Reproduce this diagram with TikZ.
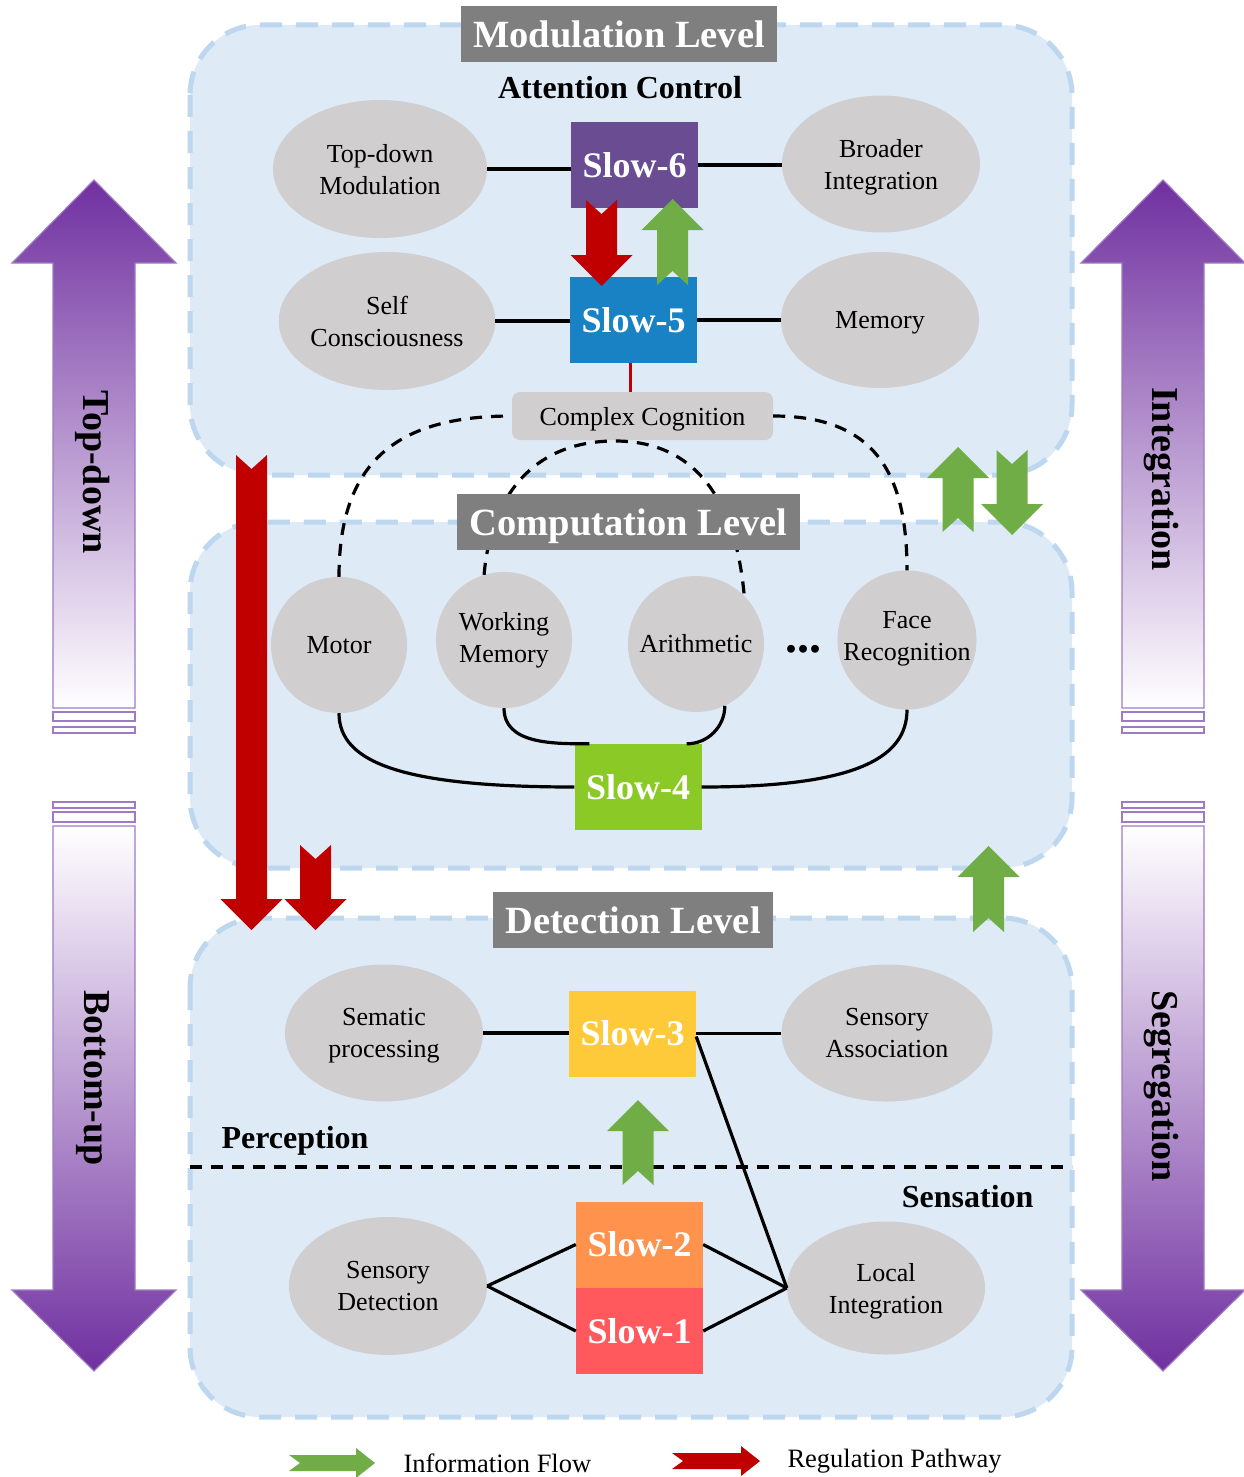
\documentclass[tikz,border=0pt]{standalone}
\usepackage{fontspec}
\setmainfont{Liberation Serif}
\usetikzlibrary{shapes.geometric}
\definecolor{panelfill}{HTML}{DEEBF7}
\definecolor{panelline}{HTML}{BDD7EE}
\definecolor{nodegray}{HTML}{D0CECE}
\definecolor{hdrgray}{HTML}{7F7F7F}
\definecolor{regred}{HTML}{C00000}
\definecolor{infogreen}{HTML}{70AD47}
\definecolor{arrpurple}{HTML}{7030A0}
\definecolor{arrline}{HTML}{9E7BC4}
\definecolor{cSsix}{HTML}{6A4C93}
\definecolor{cSfive}{HTML}{1982C4}
\definecolor{cSfour}{HTML}{8AC926}
\definecolor{cSthree}{HTML}{FFCA3A}
\definecolor{cStwo}{HTML}{FF924C}
\definecolor{cSone}{HTML}{FF595E}
\newcommand\myNodeFont{\fontsize{26}{32}\selectfont}
% up block arrow: cx, tip y, bottom y, colour
\newcommand\BlkUp[4]{\fill[#4] (#1,#2) -- ({#1+31},{#2-31}) -- ({#1+15.5},{#2-31}) -- ({#1+15.5},#3) -- (#1,{#3+14}) -- ({#1-15.5},#3) -- ({#1-15.5},{#2-31}) -- ({#1-31},{#2-31}) -- cycle;}
% down block arrow: cx, tip y, top y, colour
\newcommand\BlkDown[4]{\fill[#4] (#1,#2) -- ({#1+31},{#2+31}) -- ({#1+15.5},{#2+31}) -- ({#1+15.5},#3) -- (#1,{#3-14}) -- ({#1-15.5},#3) -- ({#1-15.5},{#2+31}) -- ({#1-31},{#2+31}) -- cycle;}
% right block arrow: tail x, tip x, cy, colour
\newcommand\BlkRight[4]{\fill[#4] (#2,#3) -- ({#2-19},{#3+15}) -- ({#2-19},{#3+8}) -- (#1,{#3+8}) -- ({#1+11},#3) -- (#1,{#3-8}) -- ({#2-19},{#3-8}) -- ({#2-19},{#3-15}) -- cycle;}
% big purple arrows
\newcommand\BigUpArrow[1]{%
  \path[draw=arrline, line width=1.2pt, top color=arrpurple, bottom color=white]
    (#1,-180) -- ({#1+82},-263) -- ({#1+41},-263) -- ({#1+41},-708) -- ({#1-41},-708) -- ({#1-41},-263) -- ({#1-82},-263) -- cycle;
  \draw[arrline, line width=1.2pt, fill=white] ({#1-41},-712) rectangle ({#1+41},-721);
  \draw[arrline, line width=1.2pt, fill=white] ({#1-41},-727) rectangle ({#1+41},-733);}
\newcommand\BigDownArrow[1]{%
  \path[draw=arrline, line width=1.2pt, top color=white, bottom color=arrpurple]
    (#1,-1371) -- ({#1+82},-1290) -- ({#1+41},-1290) -- ({#1+41},-826) -- ({#1-41},-826) -- ({#1-41},-1290) -- ({#1-82},-1290) -- cycle;
  \draw[arrline, line width=1.2pt, fill=white] ({#1-41},-812) rectangle ({#1+41},-822);
  \draw[arrline, line width=1.2pt, fill=white] ({#1-41},-802) rectangle ({#1+41},-808);}
\tikzset{
  panel/.style={draw=panelline, fill=panelfill, line width=5pt, dash pattern=on 22pt off 14pt, rounded corners=70pt},
  hdr/.style={fill=hdrgray, text=white, font=\fontsize{38.5}{40}\selectfont\bfseries, minimum height=56pt, inner sep=0pt, text depth=-2pt},
  ell/.style={ellipse, fill=nodegray, inner sep=0pt, align=center, font=\myNodeFont, text depth=-4pt},
  circ/.style={circle, fill=nodegray, minimum size=136pt, inner sep=0pt, align=center, font=\myNodeFont},
  slowbox/.style={rectangle, minimum width=127pt, minimum height=86pt, text=white, font=\fontsize{36}{40}\selectfont\bfseries, inner sep=0pt},
  link/.style={line width=3.2pt, black},
  dlink/.style={line width=3.2pt, black, dash pattern=on 12pt off 9pt},
  sidelabel/.style={rotate=-90, font=\fontsize{38}{40}\selectfont\bfseries},
  boldlabel/.style={font=\fontsize{32}{36}\selectfont\bfseries},
  legendtext/.style={font=\fontsize{26.5}{30}\selectfont, anchor=west}
}
\begin{document}
\begin{tikzpicture}[x=1pt,y=1pt]
\useasboundingbox[fill=white] (0,0) rectangle (1243,-1477);
% panels
\path[panel] (190,-25) rectangle (1072,-475);
\path[panel] (190,-522) rectangle (1072,-868);
\path[panel] (190,-918) rectangle (1072,-1417);

% big side arrows
\BigUpArrow{94}
\BigDownArrow{94}
\BigUpArrow{1163}
\BigDownArrow{1163}
\node[sidelabel] (lTD) at (93,-472) {Top-down};
\node[sidelabel] (lBU) at (93,-1078) {Bottom-up};
\node[sidelabel] (lIN) at (1161,-479) {Integration};
\node[sidelabel] (lSG) at (1161,-1086) {Segregation};

% modulation level nodes
\node[ell, minimum width=214pt, minimum height=138pt] (tdm) at (380,-169) {Top-down\\Modulation};
\node[ell, minimum width=198pt, minimum height=137pt] (bi) at (881,-164) {Broader\\Integration};
\node[ell, minimum width=198pt, minimum height=138pt, text depth=0pt] (sc) at (387,-321) {Self\\Consciousness};
\node[ell, minimum width=198pt, minimum height=136pt] (mem) at (880,-320) {Memory};
\node[slowbox, fill=cSsix] (s6) at (634.5,-165) {Slow-6};
\node[slowbox, fill=cSfive] (s5) at (633.5,-320) {Slow-5};
\node[rectangle, rounded corners=8pt, fill=nodegray, minimum width=261pt, minimum height=48pt, inner sep=0pt, font=\myNodeFont, text depth=-4pt] (cc) at (642.5,-416) {Complex Cognition};

% computation level nodes
\node[circ] (motor) at (339,-645) {Motor};
\node[circ] (wm) at (504,-640) {Working\\Memory};
\node[circ] (arith) at (696,-644) {Arithmetic};
\node[font=\fontsize{48}{50}\selectfont\bfseries] (dots) at (803,-649) {...};
\node[circ, text depth=8pt] (face) at (907,-640) {Face\\Recognition};
\node[slowbox, fill=cSfour] (s4) at (638,-787) {Slow-4};

% detection level nodes
\node[ell, minimum width=198pt, minimum height=137pt] (sp) at (384,-1033) {Sematic\\processing};
\node[ell, minimum width=211pt, minimum height=137pt] (sa) at (887,-1033) {Sensory\\Association};
\node[slowbox, fill=cSthree] (s3) at (632.5,-1033.5) {Slow-3};
\node[ell, minimum width=198pt, minimum height=138pt, text depth=0pt] (sd) at (388,-1286) {Sensory\\Detection};
\node[ell, minimum width=198pt, minimum height=133pt] (li) at (886,-1288) {Local\\Integration};
\node[slowbox, fill=cStwo] (s2) at (639.5,-1244.5) {Slow-2};
\node[slowbox, fill=cSone] (s1) at (639.5,-1331) {Slow-1};

% modulation connectors
\draw[link] (tdm.east) -- (tdm.east -| s6.west);
\draw[link] (s6.east) -- (s6.east -| bi.west);
\draw[link] (sc.east) -- (sc.east -| s5.west);
\draw[link] (s5.east) -- (s5.east -| mem.west);
\draw[regred, line width=3pt] ([xshift=-3pt]s5.south) -- ([xshift=-3pt]s5.south |- cc.north);

% dashed arcs
\coordinate (ccb) at (615,-441);
\draw[dlink] (motor.north) to[out=90,in=180,looseness=1.25] (cc.west);
\draw[dlink] (cc.east) to[out=0,in=90,looseness=1.25] (face.north);
\draw[dlink] (wm.107) to[out=85,in=180,looseness=1.1] (ccb) to[out=0,in=95,looseness=1.1] (arith.45);

% slow-4 connectors
\draw[link] (motor.south) .. controls +(0,-50) and +(-170,0) .. (s4.west);
\draw[link] (face.south) .. controls +(0,-50) and +(150,0) .. (s4.east);
\draw[link] (wm.south) to[out=-90,in=180] ([xshift=15pt]s4.north west);
\draw[link] (arith.-65) to[out=-90,in=0] ([xshift=-15pt]s4.north east);

% detection connectors
\draw[link] (sp.east) -- (sp.east -| s3.west);
\draw[link] (s3.east) -- (s3.east -| sa.west);
\draw[link] ([yshift=-3pt]s3.east) -- (li.west);
\draw[link] (sd.east) -- (s2.west);
\draw[link] (sd.east) -- (s1.west);
\draw[link] (s2.east) -- (li.west);
\draw[link] (s1.east) -- (li.west);
\draw[dlink] (190,-1167) -- (1072,-1167);

% block arrows
\BlkDown{601.5}{-286}{-200}{regred}
\BlkUp{672.5}{-199}{-285}{infogreen}
\BlkDown{251.5}{-930}{-455}{regred}
\BlkDown{315.5}{-930}{-845}{regred}
\BlkUp{958}{-447}{-532}{infogreen}
\BlkDown{1012}{-535}{-450}{infogreen}
\BlkUp{988.5}{-846}{-932}{infogreen}
\BlkUp{638}{-1100}{-1185}{infogreen}

% headers and labels
\node[hdr, minimum width=316pt] (hMod) at (619,-34) {Modulation Level};
\node[hdr, minimum width=343pt] (hComp) at (628.5,-522) {Computation Level};
\node[hdr, minimum width=280pt] (hDet) at (633,-920) {Detection Level};
\node[boldlabel] (att) at (620,-88) {Attention Control};
\node[boldlabel, anchor=west] (perc) at (218,-1141) {Perception};
\node[boldlabel, anchor=east] (sens) at (1037,-1197) {Sensation};

% legend
\BlkRight{289}{375}{-1463}{infogreen}
\BlkRight{672}{760}{-1461}{regred}
\node[legendtext] (lgInfo) at (400,-1463) {Information Flow};
\node[legendtext] (lgReg) at (784,-1461) {Regulation Pathway};
\end{tikzpicture}
\end{document}
